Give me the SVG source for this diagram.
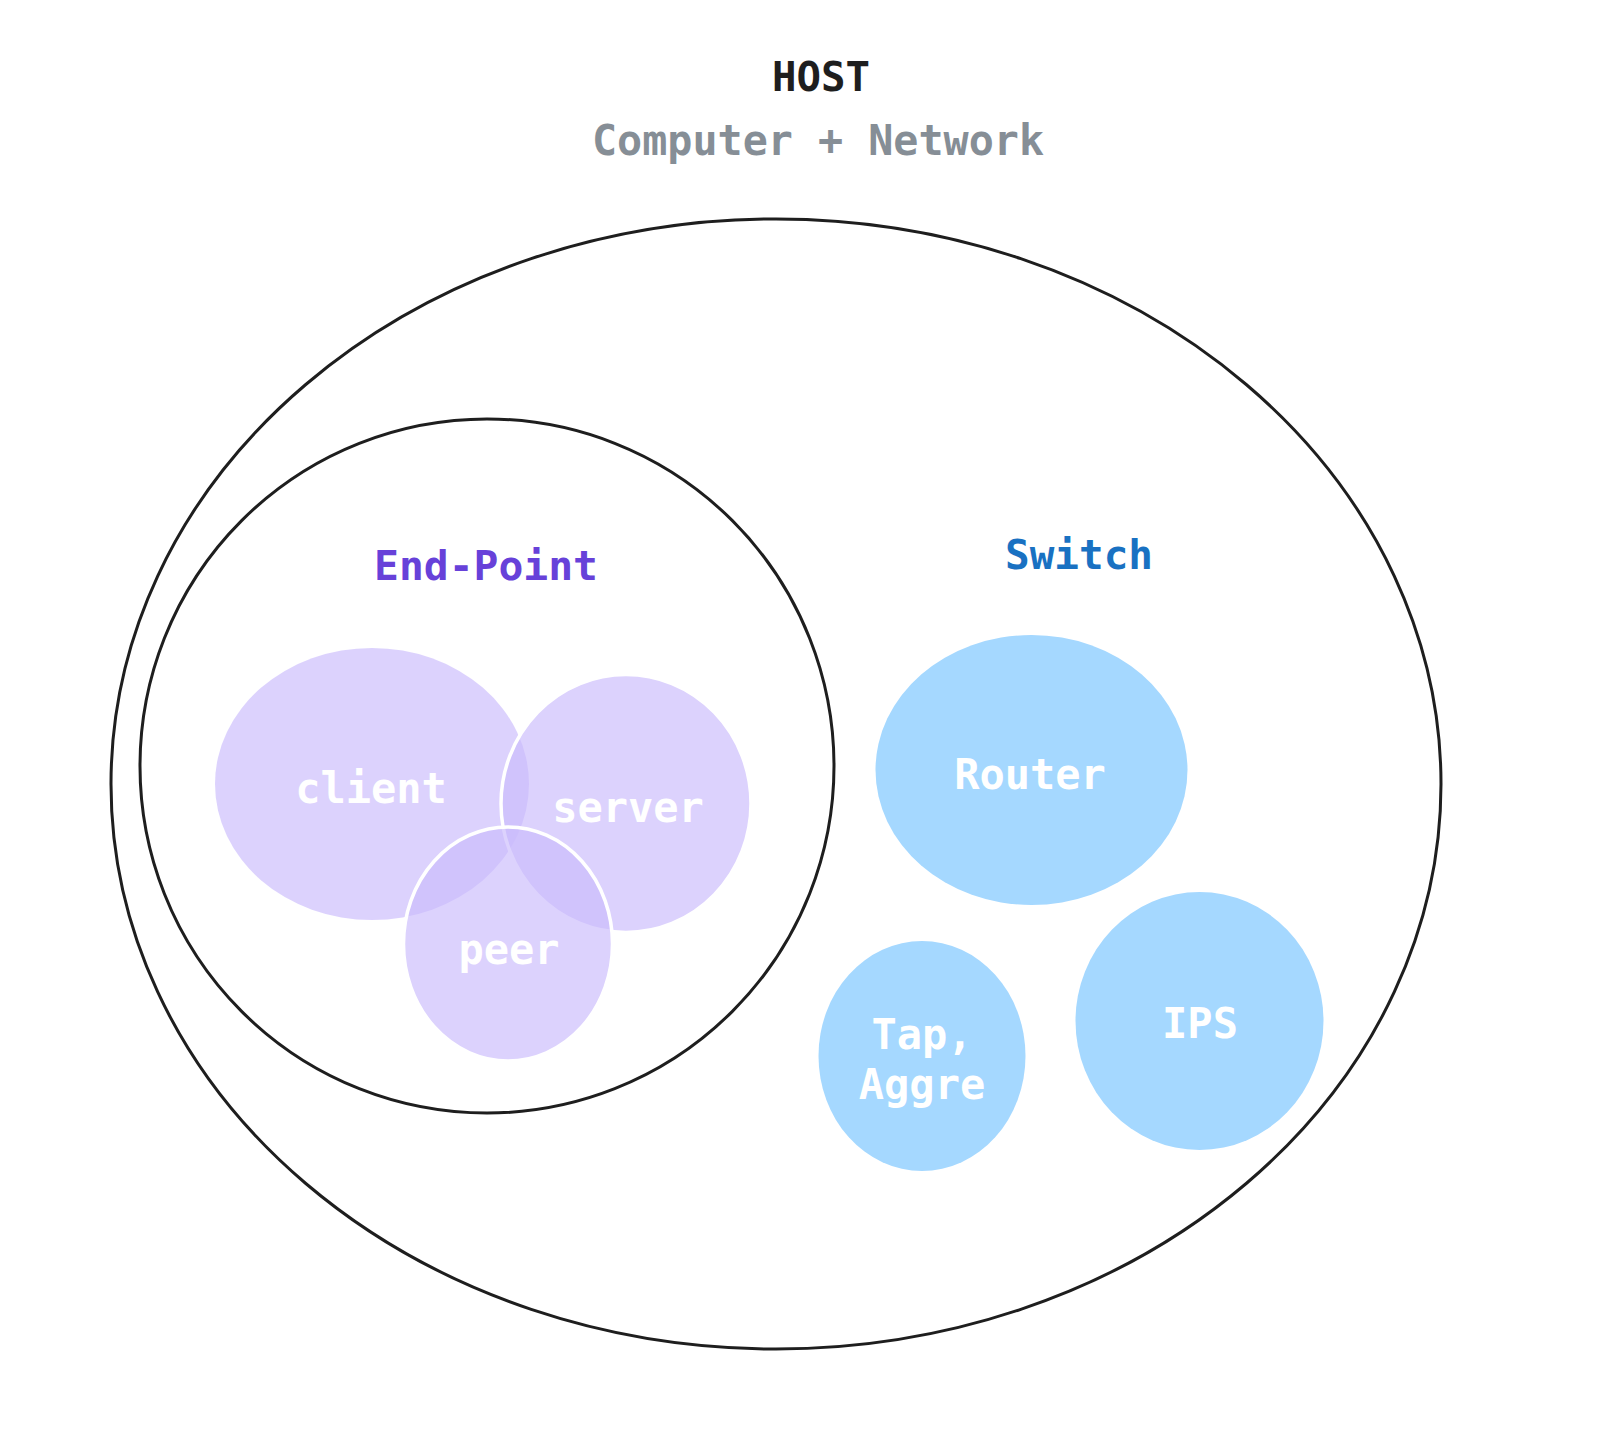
<svg xmlns="http://www.w3.org/2000/svg" width="1600" height="1435" viewBox="0 0 1600 1435">
<style>
text{font-family:"DejaVu Sans Mono","Liberation Mono",monospace;text-anchor:middle}
.frame{fill:none;stroke:#1e1e1e;stroke-width:3}
.ep{fill:#cabbfc;fill-opacity:0.66}
.sw{fill:#a5d8ff}
.lbl{fill:#ffffff;font-size:42px;font-weight:bold}
.edge{stroke:#ffffff;stroke-width:3.5}
</style>
<rect width="1600" height="1435" fill="#ffffff"/>
<g id="title">
<text x="821" y="91" font-size="41" font-weight="bold" fill="#1e1e1e" textLength="98" lengthAdjust="spacingAndGlyphs">HOST</text>
<text x="818" y="155" font-size="42" font-weight="bold" fill="#868e96" textLength="452" lengthAdjust="spacingAndGlyphs">Computer + Network</text>
</g>
<g id="host">
<ellipse class="frame" cx="776" cy="784" rx="665" ry="565"/>
</g>
<g id="endpoint">
<circle class="frame" cx="487" cy="766" r="347"/>
<text x="486" y="580" font-size="40" font-weight="bold" fill="#6741d9" textLength="224" lengthAdjust="spacingAndGlyphs">End-Point</text>
</g>
<g id="switch">
<text x="1079" y="569" font-size="41" font-weight="bold" fill="#1971c2" textLength="148" lengthAdjust="spacingAndGlyphs">Switch</text>
</g>
<g id="client">
<ellipse class="ep" cx="372" cy="784" rx="157" ry="136"/>
<text class="lbl" x="371" y="803">client</text>
</g>
<g id="server">
<ellipse class="ep edge" cx="626" cy="803.5" rx="125" ry="129"/>
<text class="lbl" x="628" y="822">server</text>
</g>
<g id="peer">
<ellipse class="ep edge" cx="508" cy="944" rx="104.5" ry="117"/>
<text class="lbl" x="509" y="964">peer</text>
</g>
<g id="router">
<ellipse class="sw" cx="1031.5" cy="770" rx="156" ry="135"/>
<text class="lbl" x="1030" y="789">Router</text>
</g>
<g id="tap">
<ellipse class="sw" cx="922" cy="1056" rx="103.5" ry="115"/>
<text class="lbl" x="922" y="1049">Tap,</text>
<text class="lbl" x="922" y="1099">Aggre</text>
</g>
<g id="ips">
<ellipse class="sw" cx="1199.5" cy="1021" rx="124" ry="129"/>
<text class="lbl" x="1200" y="1038">IPS</text>
</g>
<g id="connectors"/>
</svg>
